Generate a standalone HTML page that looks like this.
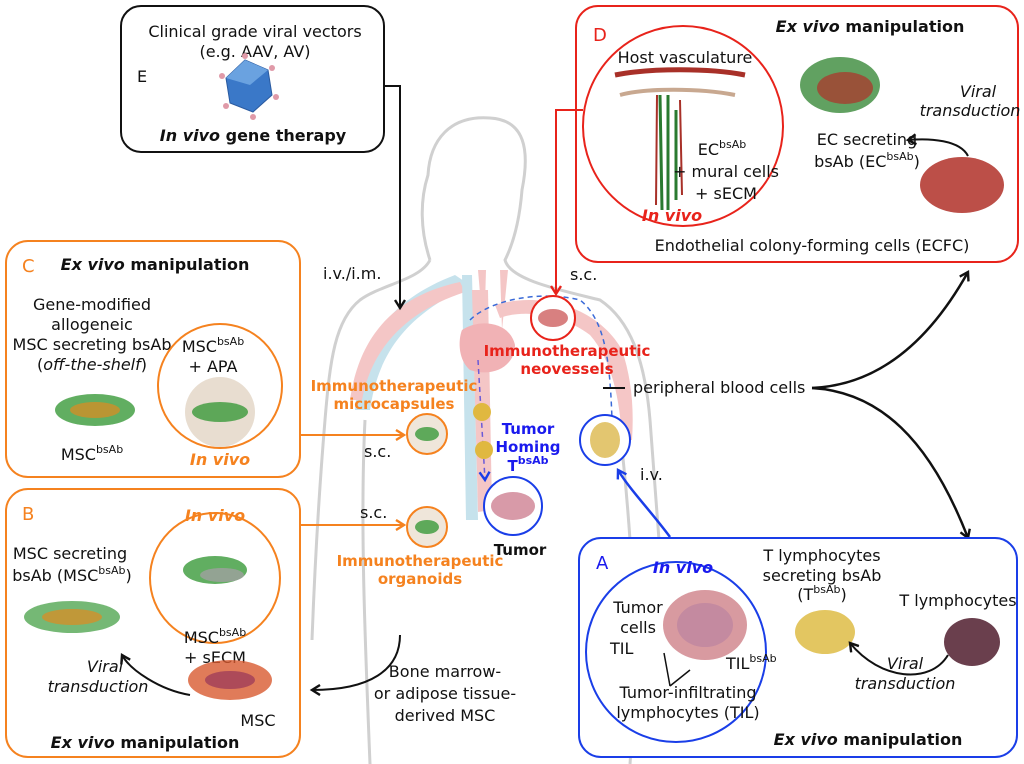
<!DOCTYPE html>
<html><head><meta charset="utf-8"><style>
html,body{margin:0;padding:0;background:#fff}
svg{display:block}
text{font-family:"DejaVu Sans","Liberation Sans",sans-serif;font-size:16px;fill:#111}
.b{font-weight:bold}
.i{font-style:italic}
.c{text-anchor:middle}
.m{font-size:15px}
.or{fill:#f5821f}
.rd{fill:#e8231b}
.bl{fill:#1a1aee}
</style></head><body>
<svg width="1024" height="764" viewBox="0 0 1024 764" xmlns="http://www.w3.org/2000/svg">
<defs>
<marker id="ak" markerWidth="12" markerHeight="12" refX="9" refY="6" orient="auto" markerUnits="userSpaceOnUse"><path d="M1,1 L9,6 L1,11" fill="none" stroke="#111" stroke-width="2.4"/></marker>
<marker id="ao" markerWidth="12" markerHeight="12" refX="9" refY="6" orient="auto" markerUnits="userSpaceOnUse"><path d="M1,1 L9,6 L1,11" fill="none" stroke="#f5821f" stroke-width="2.4"/></marker>
<marker id="ar" markerWidth="12" markerHeight="12" refX="9" refY="6" orient="auto" markerUnits="userSpaceOnUse"><path d="M1,1 L9,6 L1,11" fill="none" stroke="#e8231b" stroke-width="2.4"/></marker>
<marker id="ab" markerWidth="12" markerHeight="12" refX="9" refY="6" orient="auto" markerUnits="userSpaceOnUse"><path d="M1,1 L9,6 L1,11" fill="none" stroke="#1a3ee8" stroke-width="2.4"/></marker>
</defs>

<g fill="none" stroke="#d0d0d0" stroke-width="3">
<path d="M430,260 C420,230 420,200 428,175 C430,140 450,115 490,118 C525,120 530,150 522,190 C520,215 515,240 505,260 C510,280 560,290 600,300 C630,320 645,360 650,420 C655,480 660,560 665,620"/>
<path d="M430,260 C420,280 380,285 360,300 C335,320 330,360 325,420 C320,480 315,560 312,640"/>
<path d="M365,420 C360,520 365,640 370,764"/>
<path d="M620,430 C630,520 640,640 630,764"/>
</g>
<g opacity="0.8">
<path d="M355,410 C360,340 390,300 455,275 L470,285 C420,310 380,340 370,410 Z" fill="#b8dbe8"/>
<path d="M350,400 C360,330 400,295 460,282 L465,292 C410,310 372,345 362,400 Z" fill="#f2b8b8"/>
<path d="M462,275 L472,275 L478,520 L466,520 Z" fill="#b8dbe8"/>
<path d="M472,290 L488,290 L492,510 L478,512 Z" fill="#f2b8b8"/>
<path d="M478,270 L486,270 L484,340 Z" fill="#f2b8b8"/>
<path d="M500,270 L508,270 L502,330 Z" fill="#f2b8b8"/>
<path d="M495,305 C545,290 600,310 622,350 C632,380 634,410 632,440 L622,440 C620,400 612,360 590,335 C560,312 520,310 500,318 Z" fill="#f2b8b8"/>
<path d="M462,330 C480,318 510,322 515,345 C515,365 495,378 470,370 C458,360 458,340 462,330 Z" fill="#ee9fa3"/>
</g>
<path d="M470,320 C490,300 540,290 580,300 C605,320 610,360 612,420" fill="none" stroke="#3a6ad8" stroke-width="1.5" stroke-dasharray="5,4"/>
<path d="M478,360 L485,480" fill="none" stroke="#6a5ad8" stroke-width="1.5" stroke-dasharray="5,4" marker-end="url(#ab)"/>

<!-- Box E -->
<rect x="121" y="6" width="263" height="146" rx="20" fill="#fff" stroke="#111" stroke-width="2"/>
<text x="255" y="37" class="c">Clinical grade viral vectors</text>
<text x="255" y="57" class="c">(e.g. AAV, AV)</text>
<text x="137" y="82">E</text>
<polygon points="245,60 268,70 272,95 253,112 230,103 226,78" fill="#3a78c8" stroke="#2a5aa0"/>
<polygon points="245,60 268,70 250,85 226,78" fill="#6aa2e0"/>
<g fill="#e09aa8"><circle cx="245" cy="56" r="3"/><circle cx="272" cy="68" r="3"/><circle cx="276" cy="97" r="3"/><circle cx="253" cy="117" r="3"/><circle cx="226" cy="106" r="3"/><circle cx="222" cy="76" r="3"/></g>
<text x="253" y="141" class="c b"><tspan class="i">In vivo</tspan>  gene therapy</text>
<path d="M385,86 L400,86 L400,308" fill="none" stroke="#111" stroke-width="2" marker-end="url(#ak)"/>
<text x="323" y="279">i.v./i.m.</text>

<!-- Box D -->
<rect x="576" y="6" width="442" height="256" rx="22" fill="#fff" stroke="#e8231b" stroke-width="2"/>
<text x="593" y="41" class="rd" style="font-size:18px">D</text>
<text x="870" y="32" class="c b"><tspan class="i">Ex vivo</tspan>  manipulation</text>
<circle cx="683" cy="126" r="100" fill="#fff" stroke="#e8231b" stroke-width="2"/>
<text x="685" y="63" class="c">Host vasculature</text>
<path d="M615,75 C650,68 710,68 745,75" stroke="#a83028" stroke-width="5" fill="none"/>
<path d="M620,95 C645,88 700,88 735,95" stroke="#c8a890" stroke-width="4" fill="none"/>
<path d="M660,95 L662,210 M668,95 L668,210 M676,110 L676,200" stroke="#2a7a30" stroke-width="3" fill="none"/>
<path d="M657,95 L656,205 M680,100 L682,195" stroke="#a83028" stroke-width="2" fill="none"/>
<text x="722" y="155" class="c">EC<tspan dy="-7" font-size="11">bsAb</tspan></text>
<text x="726" y="177" class="c">+ mural cells</text>
<text x="726" y="199" class="c">+ sECM</text>
<text x="672" y="221" class="c b i rd">In vivo</text>
<path d="M583,110 L556,110 L556,294" fill="none" stroke="#e8231b" stroke-width="2" marker-end="url(#ar)"/>
<text x="570" y="280">s.c.</text>
<ellipse cx="840" cy="85" rx="40" ry="28" fill="#3a8a3a" opacity="0.8"/>
<ellipse cx="845" cy="88" rx="28" ry="16" fill="#b03028" opacity="0.7"/>
<text x="978" y="97" class="c i">Viral</text>
<text x="970" y="116" class="c i">transduction</text>
<path d="M968,156 C960,140 930,138 908,140" fill="none" stroke="#111" stroke-width="2" marker-end="url(#ak)"/>
<text x="867" y="145" class="c">EC secreting</text>
<text x="867" y="167" class="c">bsAb (EC<tspan dy="-7" font-size="11">bsAb</tspan><tspan dy="7">)</tspan></text>
<ellipse cx="962" cy="185" rx="42" ry="28" fill="#b03028" opacity="0.85"/>
<text x="812" y="251" class="c">Endothelial colony-forming cells (ECFC)</text>

<!-- Box C -->
<rect x="6" y="241" width="294" height="236" rx="22" fill="#fff" stroke="#f5821f" stroke-width="2"/>
<text x="22" y="272" class="or" style="font-size:18px">C</text>
<text x="155" y="270" class="c b"><tspan class="i">Ex vivo</tspan> manipulation</text>
<text x="92" y="310" class="c">Gene-modified</text>
<text x="92" y="330" class="c">allogeneic</text>
<text x="92" y="350" class="c">MSC secreting bsAb</text>
<text x="92" y="370" class="c">(<tspan class="i">off-the-shelf</tspan>)</text>
<ellipse cx="95" cy="410" rx="40" ry="16" fill="#3a9a3a" opacity="0.8"/>
<ellipse cx="95" cy="410" rx="25" ry="8" fill="#e08a20" opacity="0.7"/>
<text x="92" y="460" class="c">MSC<tspan dy="-7" font-size="11">bsAb</tspan></text>
<circle cx="220" cy="386" r="62" fill="#fff" stroke="#f5821f" stroke-width="2"/>
<text x="213" y="352" class="c">MSC<tspan dy="-7" font-size="11">bsAb</tspan></text>
<text x="213" y="372" class="c">+ APA</text>
<circle cx="220" cy="412" r="35" fill="#e8ddd0"/>
<ellipse cx="220" cy="412" rx="28" ry="10" fill="#3a9a3a" opacity="0.8"/>
<text x="220" y="465" class="c b i or">In vivo</text>
<path d="M300,435 L404,435" fill="none" stroke="#f5821f" stroke-width="2" marker-end="url(#ao)"/>
<text x="364" y="457">s.c.</text>
<circle cx="427" cy="434" r="20" fill="#efe6da" stroke="#f5821f" stroke-width="2"/>
<ellipse cx="427" cy="434" rx="12" ry="7" fill="#3a9a3a" opacity="0.8"/>
<text x="394" y="391" class="c b or m">Immunotherapeutic</text>
<text x="394" y="409" class="c b or m">microcapsules</text>

<!-- Box B -->
<rect x="6" y="489" width="294" height="268" rx="22" fill="#fff" stroke="#f5821f" stroke-width="2"/>
<text x="22" y="520" class="or" style="font-size:18px">B</text>
<circle cx="215" cy="578" r="65" fill="#fff" stroke="#f5821f" stroke-width="2"/>
<text x="215" y="521" class="c b i or">In vivo</text>
<ellipse cx="215" cy="570" rx="32" ry="14" fill="#3a9a3a" opacity="0.8"/>
<ellipse cx="222" cy="575" rx="22" ry="7" fill="#a0a0a0" opacity="0.8"/>
<text x="215" y="643" class="c">MSC<tspan dy="-7" font-size="11">bsAb</tspan></text>
<text x="215" y="663" class="c">+ sECM</text>
<text x="70" y="559" class="c">MSC secreting</text>
<text x="72" y="581" class="c">bsAb (MSC<tspan dy="-7" font-size="11">bsAb</tspan><tspan dy="7">)</tspan></text>
<ellipse cx="72" cy="617" rx="48" ry="16" fill="#3a9a3a" opacity="0.7"/>
<ellipse cx="72" cy="617" rx="30" ry="8" fill="#e08a20" opacity="0.7"/>
<text x="105" y="672" class="c i">Viral</text>
<text x="98" y="692" class="c i">transduction</text>
<path d="M190,695 C160,690 130,670 122,655" fill="none" stroke="#111" stroke-width="2" marker-end="url(#ak)"/>
<ellipse cx="230" cy="680" rx="42" ry="20" fill="#d85a30" opacity="0.8"/>
<ellipse cx="230" cy="680" rx="25" ry="9" fill="#8a2a5a" opacity="0.6"/>
<text x="258" y="726" class="c">MSC</text>
<text x="145" y="748" class="c b"><tspan class="i">Ex vivo</tspan> manipulation</text>
<path d="M300,525 L404,525" fill="none" stroke="#f5821f" stroke-width="2" marker-end="url(#ao)"/>
<text x="360" y="518">s.c.</text>
<circle cx="427" cy="527" r="20" fill="#efe6da" stroke="#f5821f" stroke-width="2"/>
<ellipse cx="427" cy="527" rx="12" ry="7" fill="#3a9a3a" opacity="0.8"/>
<text x="420" y="566" class="c b or m">Immunotherapeutic</text>
<text x="420" y="584" class="c b or m">organoids</text>
<path d="M400,635 C400,670 370,690 312,690" fill="none" stroke="#111" stroke-width="2" marker-end="url(#ak)"/>
<text x="445" y="677" class="c">Bone marrow-</text>
<text x="445" y="699" class="c">or adipose tissue-</text>
<text x="445" y="721" class="c">derived MSC</text>

<!-- center -->
<circle cx="553" cy="318" r="22" fill="#fff" stroke="#e8231b" stroke-width="2"/>
<ellipse cx="553" cy="318" rx="15" ry="9" fill="#d88080"/>
<text x="567" y="356" class="c b rd m">Immunotherapeutic</text>
<text x="567" y="374" class="c b rd m">neovessels</text>
<g fill="#e0b840"><circle cx="482" cy="412" r="9"/><circle cx="484" cy="450" r="9"/></g>
<text x="528" y="434" class="c b bl m">Tumor</text>
<text x="528" y="452" class="c b bl m">Homing</text>
<text x="528" y="471" class="c b bl m">T<tspan dy="-7" font-size="11">bsAb</tspan></text>
<circle cx="513" cy="506" r="29" fill="#fff" stroke="#1a3ee8" stroke-width="2"/>
<ellipse cx="513" cy="506" rx="22" ry="14" fill="#d89aa8"/>
<text x="520" y="555" class="c b m">Tumor</text>
<circle cx="605" cy="440" r="25" fill="#fff" stroke="#1a3ee8" stroke-width="2"/>
<ellipse cx="605" cy="440" rx="15" ry="18" fill="#e0c060" opacity="0.9"/>
<path d="M603,388 L625,388" stroke="#111" stroke-width="2"/>
<text x="633" y="393">peripheral blood cells</text>
<text x="640" y="480">i.v.</text>
<path d="M670,537 C650,510 630,490 618,470" fill="none" stroke="#1a3ee8" stroke-width="2.5" marker-end="url(#ab)"/>
<path d="M812,388 C880,385 930,340 968,272" fill="none" stroke="#111" stroke-width="2.5" marker-end="url(#ak)"/>
<path d="M812,388 C880,392 930,440 968,538" fill="none" stroke="#111" stroke-width="2.5" marker-end="url(#ak)"/>

<!-- Box A -->
<rect x="579" y="538" width="438" height="219" rx="22" fill="#fff" stroke="#1a3ee8" stroke-width="2"/>
<text x="596" y="569" style="font-size:18px" class="bl">A</text>
<circle cx="676" cy="652" r="90" fill="#fff" stroke="#1a3ee8" stroke-width="2"/>
<text x="683" y="573" class="c b i bl">In vivo</text>
<ellipse cx="705" cy="625" rx="42" ry="35" fill="#d89aa0"/>
<ellipse cx="705" cy="625" rx="28" ry="22" fill="#b07aa0" opacity="0.5"/>
<text x="638" y="613" class="c">Tumor</text>
<text x="638" y="633" class="c">cells</text>
<text x="610" y="654">TIL</text>
<text x="726" y="669">TIL<tspan dy="-7" font-size="11">bsAb</tspan></text>
<path d="M670,686 L664,653 M670,686 L690,670" stroke="#111" stroke-width="1.5" fill="none"/>
<text x="688" y="698" class="c">Tumor-infiltrating</text>
<text x="688" y="718" class="c">lymphocytes (TIL)</text>
<text x="822" y="561" class="c">T lymphocytes</text>
<text x="822" y="581" class="c">secreting bsAb</text>
<text x="822" y="600" class="c">(T<tspan dy="-7" font-size="11">bsAb</tspan><tspan dy="7">)</tspan></text>
<ellipse cx="825" cy="632" rx="30" ry="22" fill="#e0c050" opacity="0.9"/>
<text x="958" y="606" class="c">T lymphocytes</text>
<ellipse cx="972" cy="642" rx="28" ry="24" fill="#5a2a3a" opacity="0.9"/>
<path d="M948,655 C930,685 880,680 850,643" fill="none" stroke="#111" stroke-width="2" marker-end="url(#ak)"/>
<text x="905" y="669" class="c i">Viral</text>
<text x="905" y="689" class="c i">transduction</text>
<text x="868" y="745" class="c b"><tspan class="i">Ex vivo</tspan>  manipulation</text>
</svg>
</body></html>
